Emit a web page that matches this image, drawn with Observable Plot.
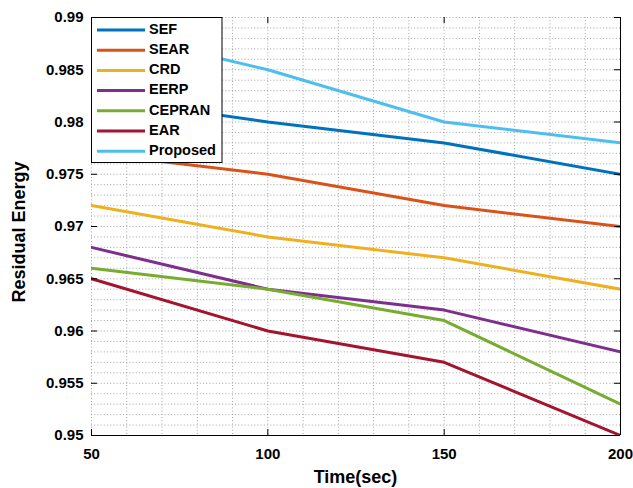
<!DOCTYPE html>
<html>
<head>
<meta charset="utf-8">
<script src="https://cdn.jsdelivr.net/npm/d3@7"></script>
<script src="https://cdn.jsdelivr.net/npm/@observablehq/plot@0.6"></script>
<style>
  html, body { margin: 0; padding: 0; background: #fff; }
  #chart { width: 633px; height: 488px; }
</style>
</head>
<body>
<div id="chart"></div>
<script>
const times = [50, 100, 150, 200];
const seriesNames = ["SEF", "SEAR", "CRD", "EERP", "CEPRAN", "EAR", "Proposed"];
const seriesColors = ["#0072BD", "#D95319", "#EDB120", "#7E2F8E", "#77AC30", "#A2142F", "#4DBEEE"];
const SEF      = [0.9824, 0.980, 0.978, 0.975];
const SEAR     = [0.977, 0.975, 0.972, 0.970];
const CRD      = [0.972, 0.969, 0.967, 0.964];
const EERP     = [0.968, 0.964, 0.962, 0.958];
const CEPRAN   = [0.966, 0.964, 0.961, 0.953];
const EAR      = [0.965, 0.960, 0.957, 0.950];
const Proposed = [0.989, 0.985, 0.980, 0.978];
const xTicks = [50, 100, 150, 200];
const yTicks = [0.95, 0.955, 0.96, 0.965, 0.97, 0.975, 0.98, 0.985, 0.99];
const xMinor = d3.range(50, 201, 10);
const yMinor = d3.range(0, 41).map(i => +(0.95 + i * 0.001).toFixed(3));

const valuesBySeries = { SEF, SEAR, CRD, EERP, CEPRAN, EAR, Proposed };
const data = seriesNames.flatMap(name =>
  times.map((t, i) => ({ series: name, time: t, value: valuesBySeries[name][i] }))
);

const W = 633, H = 488, mL = 91, mR = 13, mT = 17, mB = 53;
const pw = W - mL - mR, ph = H - mT - mB;
const font = "'Liberation Sans', Arial, Helvetica, sans-serif";

const chart = Plot.plot({
  width: W, height: H,
  marginLeft: mL, marginRight: mR, marginTop: mT, marginBottom: mB,
  x: { domain: [50, 200] },
  y: { domain: [0.95, 0.99] },
  color: { domain: seriesNames, range: seriesColors },
  style: { fontFamily: font, fontWeight: "bold", fontSize: "15px", color: "black", background: "white" },
  marks: [
    Plot.gridX(xMinor, { stroke: "#9a9a9a", strokeOpacity: 0.9, strokeDasharray: "1,2.2" }),
    Plot.gridY(yMinor, { stroke: "#9a9a9a", strokeOpacity: 0.9, strokeDasharray: "1,2.2" }),
    Plot.line(data, { x: "time", y: "value", z: "series", stroke: "series", strokeWidth: 3, strokeLinejoin: "round", clip: true }),
    Plot.ruleY([0.95], { stroke: "black", strokeWidth: 1 }),
    Plot.ruleX([200], { stroke: "black", strokeWidth: 1 }),
    Plot.tickY(yTicks, { y: d => d, insetRight: pw - 6, stroke: "black" }),
    Plot.tickY(yTicks, { y: d => d, insetLeft: pw - 6, stroke: "black" }),
    Plot.tickX(xTicks, { x: d => d, insetTop: ph - 6, stroke: "black" }),
    Plot.tickX(xTicks, { x: d => d, insetBottom: ph - 6, stroke: "black" }),
    Plot.axisX(xTicks, { tickSize: 0, tickPadding: 13, label: null, fontSize: 15, fontWeight: "bold" }),
    Plot.axisY(yTicks, { tickSize: 0, tickPadding: 8, label: null, fontSize: 15, fontWeight: "bold",
      tickFormat: d => String(+d.toFixed(3)) })
  ]
});

document.getElementById("chart").appendChild(chart);

const svg = d3.select(chart);
// axis titles
svg.append("text")
  .attr("x", mL + pw / 2).attr("y", 478)
  .attr("text-anchor", "middle").attr("dominant-baseline", "middle")
  .style("font-family", font).style("font-weight", "bold").style("font-size", "18px")
  .text("Time(sec)");
svg.append("text")
  .attr("transform", `translate(20,232) rotate(-90)`)
  .attr("text-anchor", "middle").attr("dominant-baseline", "middle")
  .style("font-family", font).style("font-weight", "bold").style("font-size", "18px")
  .text("Residual Energy");

// legend
const lg = svg.append("g");
lg.append("rect")
  .attr("x", 91.5).attr("y", 17.5).attr("width", 130.5).attr("height", 145)
  .attr("fill", "white").attr("stroke", "black").attr("stroke-width", 1);
seriesNames.forEach((name, i) => {
  const y = 30 + i * 20.2;
  lg.append("line")
    .attr("x1", 97).attr("x2", 145).attr("y1", y).attr("y2", y)
    .attr("stroke", seriesColors[i]).attr("stroke-width", 3);
  lg.append("text")
    .attr("x", 149).attr("y", y)
    .attr("text-anchor", "start")
    .attr("dominant-baseline", "middle")
    .style("font-family", font).style("font-weight", "bold").style("font-size", "14.5px")
    .text(name);
});
</script>
</body>
</html>
